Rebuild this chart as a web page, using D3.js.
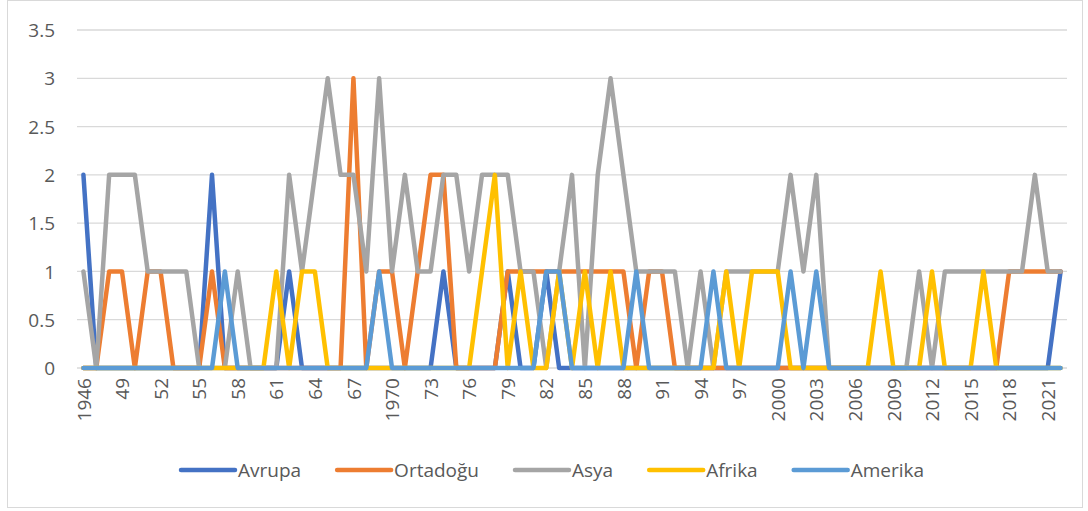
<!DOCTYPE html>
<html>
<head>
<meta charset="utf-8">
<script src="https://cdn.jsdelivr.net/npm/d3@7"></script>
<style>
  html, body { margin: 0; padding: 0; background: #fff; }
  svg { display: block; font-family: "Open Sans", "Noto Sans", sans-serif; }
</style>
</head>
<body>
<svg id="chart" width="1088" height="511"></svg>
<script>
// ---- Data ----
const years = d3.range(1946, 2023);

const avrupa = [
  2,0,0,0,0,0,0,0,0,0, 2,0,0,0,0,0,1,0,0,0, 0,0,0,0,0,0,0,0,1,0,
  0,0,0,1,0,0,1,0,0,0, 0,0,0,0,0,0,0,0,0,0, 0,0,0,0,0,0,0,0,0,0,
  0,0,0,0,0,0,0,0,0,0, 0,0,0,0,0,0,1
];
const ortadogu = [
  0,0,1,1,0,1,1,0,0,0, 1,0,0,0,0,0,0,0,0,0, 0,3,0,1,1,0,1,2,2,0,
  0,0,0,1,1,1,1,1,1,1, 1,1,1,0,1,1,0,0,0,0, 0,0,0,0,0,0,0,0,0,0,
  0,0,0,0,0,0,0,0,0,0, 0,0,1,1,1,1,1
];
const asya = [
  1,0,2,2,2,1,1,1,1,0, 0,0,1,0,0,0,2,1,2,3, 2,2,1,3,1,2,1,1,2,2,
  1,2,2,2,1,1,0,1,2,0, 2,3,2,1,1,1,1,0,1,0, 1,1,1,1,1,2,1,2,0,0,
  0,0,0,0,0,1,0,1,1,1, 1,1,1,1,2,1,1
];
const afrika = [
  0,0,0,0,0,0,0,0,0,0, 0,0,0,0,0,1,0,1,1,0, 0,0,0,0,0,0,0,0,0,0,
  0,1,2,0,1,0,0,1,0,1, 0,1,0,0,0,0,0,0,0,0, 1,0,1,1,1,0,0,0,0,0,
  0,0,1,0,0,0,1,0,0,0, 1,0,0,0,0,0,0
];
const amerika = [
  0,0,0,0,0,0,0,0,0,0, 0,1,0,0,0,0,0,0,0,0, 0,0,0,1,0,0,0,0,0,0,
  0,0,0,0,0,0,1,1,0,0, 0,0,0,1,0,0,0,0,0,1, 0,0,0,0,0,1,0,1,0,0,
  0,0,0,0,0,0,0,0,0,0, 0,0,0,0,0,0,0
];

const seriesNames = ["Avrupa", "Ortadoğu", "Asya", "Afrika", "Amerika"];
const seriesColors = ["#4472C4", "#ED7D31", "#A5A5A5", "#FFC000", "#5B9BD5"];
const seriesValues = [avrupa, ortadogu, asya, afrika, amerika];

const yTicks = [0, 0.5, 1, 1.5, 2, 2.5, 3, 3.5];
const xTickYears = d3.range(1946, 2023, 3);
const xTickLabels = ["1946","49","52","55","58","61","64","67","1970","73","76","79","82","85","88","91","94","97","2000","2003","2006","2009","2012","2015","2018","2021"];

// ---- Layout ----
const svg = d3.select("#chart");
const plot = { left: 77, right: 1067, top: 30, bottom: 368 };
const textColor = "#595959";
const fontSize = 19;

svg.append("rect")
  .attr("x", 7.5).attr("y", 0.5)
  .attr("width", 1075).attr("height", 507)
  .attr("fill", "#fff").attr("stroke", "#D9D9D9").attr("stroke-width", 1);

const x = d3.scalePoint().domain(years).range([plot.left, plot.right]).padding(0.5);
const y = d3.scaleLinear().domain([0, 3.5]).range([plot.bottom, plot.top]);

// gridlines
svg.append("g").selectAll("line")
  .data(yTicks).join("line")
  .attr("x1", plot.left).attr("x2", plot.right)
  .attr("y1", d => y(d)).attr("y2", d => y(d))
  .attr("stroke", "#D9D9D9").attr("stroke-width", 1.3);

// y axis labels
const yAxis = d3.axisLeft(y).tickValues(yTicks).tickSize(0).tickPadding(0)
  .tickFormat(d => String(d));
const gy = svg.append("g").attr("transform", "translate(55,0)").call(yAxis);
gy.select(".domain").remove();
gy.selectAll("text")
  .attr("fill", textColor).attr("font-size", fontSize)
  .attr("font-family", "'Open Sans', sans-serif")
  .attr("dy", "0.35em");

// x axis labels
const xAxis = d3.axisBottom(x).tickValues(xTickYears).tickSize(0)
  .tickFormat((d, i) => xTickLabels[i]);
const gx = svg.append("g").attr("transform", `translate(0,${plot.bottom})`).call(xAxis);
gx.select(".domain").remove();
gx.selectAll("text")
  .attr("fill", textColor).attr("font-size", fontSize)
  .attr("font-family", "'Open Sans', sans-serif")
  .attr("text-anchor", "end")
  .attr("transform", "translate(0,10) rotate(-90)")
  .attr("x", 0).attr("y", 0)
  .attr("dy", "0.35em");

// lines
const line = d3.line().x((d, i) => x(years[i])).y(d => y(d));
seriesValues.forEach((vals, k) => {
  svg.append("path")
    .datum(vals)
    .attr("d", line)
    .attr("fill", "none")
    .attr("stroke", seriesColors[k])
    .attr("stroke-width", 4.5)
    .attr("stroke-linejoin", "round")
    .attr("stroke-linecap", "round");
});

// legend
const legend = svg.append("g").attr("transform", "translate(0,470)");
let lx = 181;
seriesNames.forEach((name, k) => {
  const g = legend.append("g");
  g.append("line")
    .attr("x1", lx).attr("x2", lx + 54).attr("y1", 0).attr("y2", 0)
    .attr("stroke", seriesColors[k]).attr("stroke-width", 4.5)
    .attr("stroke-linecap", "round");
  const t = g.append("text")
    .attr("x", lx + 57).attr("y", 0).attr("dy", "0.35em")
    .attr("fill", textColor).attr("font-size", fontSize)
    .text(name);
  const w = t.node().getComputedTextLength();
  lx = lx + 57 + w + 36;
});
</script>
</body>
</html>
